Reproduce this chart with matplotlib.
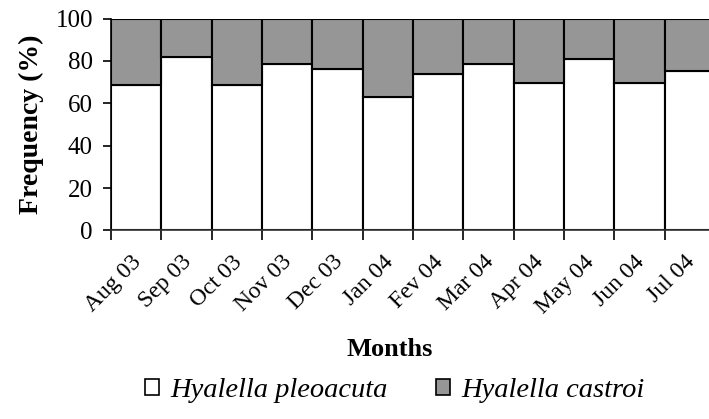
import matplotlib
matplotlib.use("Agg")
import matplotlib.pyplot as plt
import matplotlib.transforms as mtransforms
from matplotlib.patches import Patch
import numpy as np

plt.rcParams["font.family"] = ["Liberation Serif", "DejaVu Serif"]

months = ["Aug 03", "Sep 03", "Oct 03", "Nov 03", "Dec 03", "Jan 04",
          "Fev 04", "Mar 04", "Apr 04", "May 04", "Jun 04", "Jul 04"]
pleoacuta = [68.7, 81.7, 68.8, 78.6, 76.4, 62.9, 73.9, 78.5, 69.7, 80.8, 69.7, 75.3]
castroi = [100 - v for v in pleoacuta]

GRAY = "#969696"

fig = plt.figure(figsize=(7.09, 4.19), dpi=100)
ax = fig.add_axes([0.1566, 0.4499, 0.852, 0.5059])

x = np.arange(len(months))
ax.bar(x, pleoacuta, width=1.0, color="white", edgecolor="black", linewidth=1.5)
ax.bar(x, castroi, width=1.0, bottom=pleoacuta, color=GRAY, edgecolor="black", linewidth=1.5)

ax.set_xlim(-0.5, len(months) - 0.5)
ax.set_ylim(0, 100)
ax.set_yticks(range(0, 101, 20))

# tick marks between bars, labels centred under bars
ax.set_xticks(np.arange(len(months) + 1) - 0.5)
ax.set_xticklabels([])
ax.set_xticks(x, minor=True)
ax.set_xticklabels(months, minor=True, rotation=45, ha="right",
                   rotation_mode="anchor", fontsize=17)
ax.tick_params(axis="x", which="major", direction="out", length=7, width=1.2)
ax.tick_params(axis="x", which="minor", length=0, pad=12)
ax.tick_params(axis="y", direction="out", length=6, width=1.2, pad=7, labelsize=18)

# nudge the rotated labels so their ends sit under the bar centres
shift = mtransforms.ScaledTranslation(-4 / 72, -3 / 72, fig.dpi_scale_trans)
for lab in ax.get_xticklabels(minor=True):
    lab.set_transform(lab.get_transform() + shift)

for side in ["top", "right"]:
    ax.spines[side].set_visible(False)
ax.spines["left"].set_linewidth(1.2)
ax.spines["bottom"].set_linewidth(1.2)
ax.spines["bottom"].set_color("#333333")

ax.set_ylabel("Frequency (%)", fontsize=20, fontweight="bold", labelpad=8)
fig.text(0.55, 0.165, "Months", fontsize=19, fontweight="bold",
         ha="center", va="center")

handles = [Patch(facecolor="white", edgecolor="black", linewidth=1.2),
           Patch(facecolor=GRAY, edgecolor="black", linewidth=1.2)]
fig.legend(handles, ["Hyalella pleoacuta", "Hyalella castroi"],
           loc="center", bbox_to_anchor=(0.557, 0.068), ncol=2, frameon=False,
           prop={"style": "italic", "size": 20.5}, handlelength=0.5,
           handleheight=0.5, handletextpad=0.4, columnspacing=1.7)

fig.savefig("out.png", dpi=100)
